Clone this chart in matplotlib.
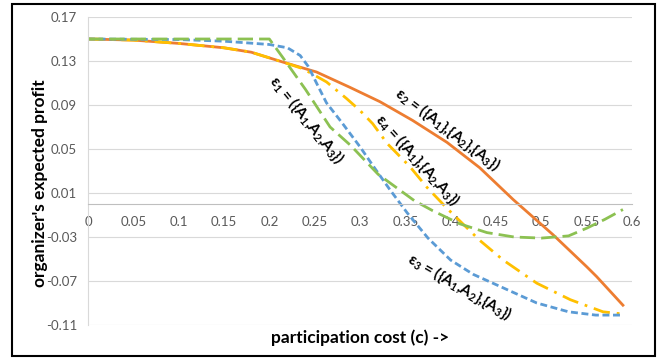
import matplotlib
matplotlib.use("Agg")
import matplotlib.pyplot as plt
from matplotlib.patches import Rectangle

# valores
c_e1 = [0, 0.05, 0.1, 0.15, 0.2, 0.215, 0.24, 0.267, 0.29, 0.32, 0.34, 0.36, 0.38, 0.41, 0.44, 0.47, 0.5, 0.53, 0.55, 0.57, 0.59]
v_e1 = [0.15, 0.15, 0.15, 0.15, 0.15, 0.133, 0.104, 0.070, 0.053, 0.027, 0.015, 0.003, -0.006, -0.018, -0.026, -0.030, -0.031, -0.029, -0.022, -0.014, -0.005]

c_e2 = [0, 0.05, 0.1, 0.15, 0.18, 0.215, 0.252, 0.289, 0.322, 0.358, 0.396, 0.432, 0.469, 0.513, 0.55, 0.561, 0.59]
v_e2 = [0.15, 0.149, 0.146, 0.142, 0.138, 0.129, 0.12, 0.106, 0.093, 0.076, 0.056, 0.033, 0.004, -0.028, -0.057, -0.066, -0.092]

c_e3 = [0, 0.1, 0.15, 0.2, 0.22, 0.234, 0.243, 0.252, 0.263, 0.28, 0.3, 0.315, 0.333, 0.352, 0.375, 0.4, 0.425, 0.46, 0.495, 0.53, 0.56, 0.59]
v_e3 = [0.15, 0.1495, 0.148, 0.145, 0.142, 0.135, 0.125, 0.110, 0.092, 0.074, 0.052, 0.034, 0.013, -0.008, -0.031, -0.051, -0.064, -0.077, -0.090, -0.098, -0.101, -0.101]

c_e4 = [0, 0.05, 0.1, 0.15, 0.18, 0.215, 0.237, 0.263, 0.285, 0.3, 0.314, 0.33, 0.355, 0.374, 0.396, 0.432, 0.458, 0.495, 0.532, 0.568, 0.59]
v_e4 = [0.15, 0.149, 0.146, 0.142, 0.138, 0.129, 0.123, 0.111, 0.096, 0.085, 0.073, 0.055, 0.034, 0.015, -0.004, -0.033, -0.051, -0.072, -0.087, -0.098, -0.100]

x_ticks = [0, 0.05, 0.1, 0.15, 0.2, 0.25, 0.3, 0.35, 0.4, 0.45, 0.5, 0.55, 0.6]
y_ticks = [-0.11, -0.07, -0.03, 0.01, 0.05, 0.09, 0.13, 0.17]

# rótulos das curvas: (texto, c, valor, rotação)
rotulos = [
    ("ε$_1$ = ({A$_1$,A$_2$,A$_3$})", 0.2415, 0.077, -51),
    ("ε$_2$ = ({A$_1$},{A$_2$},{A$_3$})", 0.397, 0.068, -37),
    ("ε$_4$ = ({A$_1$},{A$_2$,A$_3$})", 0.364, 0.040, -48),
    ("ε$_3$ = ({A$_1$,A$_2$},{A$_3$})", 0.41, -0.0755, -30),
]

plt.rcParams['font.family'] = ['Lato', 'DejaVu Sans']
plt.rcParams['mathtext.fontset'] = 'custom'
plt.rcParams['mathtext.rm'] = 'Lato:bold'
plt.rcParams['mathtext.it'] = 'Lato:bold'
plt.rcParams['mathtext.bf'] = 'Lato:bold'

fig = plt.figure(figsize=(6.62, 3.6), dpi=100)
ax = fig.add_axes([88/662, 1-325/360, (632-88)/662, (325-17)/360])

ax.plot(c_e2, v_e2, color='#ED7D31', lw=2, solid_joinstyle='round')
ax.plot(c_e4, v_e4, color='#FFC000', lw=2, dashes=(6, 2.5, 1, 2.5))
ax.plot(c_e3, v_e3, color='#5B9BD5', lw=2, dashes=(2.5, 1.3))
ax.plot(c_e1, v_e1, color='#8CC152', lw=2, dashes=(5.5, 2.2))

ax.set_xlim(0, 0.6)
ax.set_ylim(-0.11, 0.17)
ax.set_xticks(x_ticks)
ax.set_xticklabels(['0' if t == 0 else f'{t:g}' for t in x_ticks])
ax.set_yticks(y_ticks)
ax.set_yticklabels([f'{t:g}' for t in y_ticks])
ax.grid(axis='y', color='#d9d9d9', lw=0.8)
ax.set_axisbelow(True)

for lado in ['top', 'right']:
    ax.spines[lado].set_visible(False)
ax.spines['left'].set_color('#d9d9d9')
ax.spines['bottom'].set_position(('data', 0))
ax.spines['bottom'].set_color('#bfbfbf')
ax.tick_params(length=0, labelsize=9.5, labelcolor='#595959')
ax.tick_params(axis='x', pad=9)
ax.tick_params(axis='y', pad=8)

for texto, c, v, rot in rotulos:
    ax.text(c, v, texto, rotation=rot, rotation_mode='anchor', ha='center', va='center',
            fontsize=11, fontweight='bold')

fig.text(360/662, 1-338/360, 'participation cost (c) ->', ha='center', va='center',
         fontsize=12.5, fontweight='bold')
fig.text(40/662, 1-183/360, "organizer's expected profit", ha='center', va='center',
         rotation=90, fontsize=12.5, fontweight='bold')

fig.patches.append(Rectangle((12/662, 1-356/360), (655-12)/662, (356-4)/360,
                             transform=fig.transFigure, fill=False, ec='black', lw=1.5))

fig.savefig('out.png', dpi=100)
